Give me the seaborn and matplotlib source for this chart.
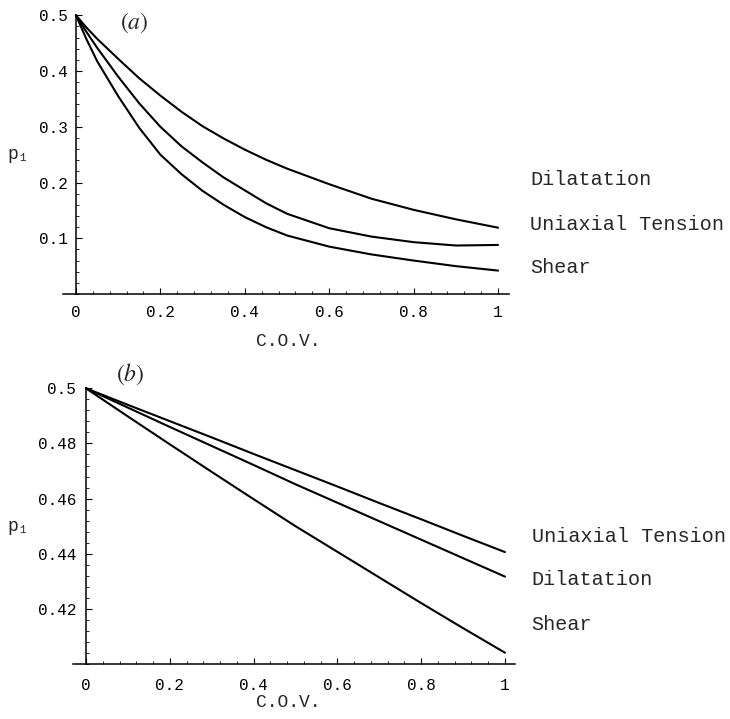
import numpy as np
import pandas as pd
import seaborn as sns
import matplotlib.pyplot as plt
from matplotlib.ticker import FixedLocator, AutoMinorLocator

# valores
a_cov = [0.0, 0.025, 0.05, 0.1, 0.15, 0.2, 0.25, 0.3, 0.35, 0.4, 0.45, 0.5,
         0.6, 0.7, 0.8, 0.9, 1.0]

# panel (a)
a_dilatation = [0.5, 0.478, 0.458, 0.422, 0.387, 0.356, 0.327, 0.301, 0.279, 0.259, 0.241, 0.225,
                0.197, 0.171, 0.151, 0.134, 0.119]
a_uniaxial = [0.5, 0.470, 0.442, 0.390, 0.342, 0.300, 0.265, 0.236, 0.209, 0.186, 0.163, 0.144,
              0.118, 0.103, 0.093, 0.087, 0.088]
a_shear = [0.5, 0.457, 0.418, 0.355, 0.298, 0.250, 0.215, 0.185, 0.160, 0.138, 0.120, 0.105,
           0.085, 0.071, 0.060, 0.050, 0.042]

# panel (b)
b_cov = [0.0, 0.1, 0.2, 0.3, 0.4, 0.5, 0.6, 0.7, 0.8, 0.9, 1.0]
b_uniaxial = [0.5, 0.4940, 0.4881, 0.4822, 0.4762, 0.4703, 0.4644, 0.4584, 0.4525, 0.4465, 0.4406]
b_dilatation = [0.5, 0.4930, 0.4860, 0.4791, 0.4722, 0.4652, 0.4585, 0.4518, 0.4451, 0.4384, 0.4317]
b_shear = [0.5, 0.4898, 0.4797, 0.4697, 0.4598, 0.4500, 0.4407, 0.4314, 0.4221, 0.4130, 0.4041]

x_ticks = [0, 0.2, 0.4, 0.6, 0.8, 1.0]
x_tick_labels = ["0", "0.2", "0.4", "0.6", "0.8", "1"]
a_y_ticks = [0.1, 0.2, 0.3, 0.4, 0.5]
a_y_tick_labels = ["0.1", "0.2", "0.3", "0.4", "0.5"]
b_y_ticks = [0.42, 0.44, 0.46, 0.48, 0.5]
b_y_tick_labels = ["0.42", "0.44", "0.46", "0.48", "0.5"]

a_series = {"Dilatation": a_dilatation, "Uniaxial Tension": a_uniaxial, "Shear": a_shear}
b_series = {"Uniaxial Tension": b_uniaxial, "Dilatation": b_dilatation, "Shear": b_shear}

# posicion de las etiquetas de cada curva (coordenadas de datos)
a_label_y = {"Dilatation": 0.206, "Uniaxial Tension": 0.124, "Shear": 0.048}
b_label_y = {"Uniaxial Tension": 0.4461, "Dilatation": 0.4307, "Shear": 0.4142}

MONO = ["Liberation Mono", "DejaVu Sans Mono"]


def a_tabla(cov, series):
    filas = []
    for nombre, valores in series.items():
        for c, v in zip(cov, valores):
            filas.append({"C.O.V.": c, "p1": v, "Carga": nombre})
    return pd.DataFrame(filas)


def dibujar_panel(ax, cov, series, label_y, label_x, xlim, ylim, yticks, yticklabels,
                  letra, letra_pos, ylab_x, xlab_pos, xpad, ypad):
    df = a_tabla(cov, series)
    sns.lineplot(data=df, x="C.O.V.", y="p1", hue="Carga",
                 palette=["black"] * 3, linewidth=1.5, legend=False,
                 ax=ax, clip_on=False)
    ax.set_xlim(*xlim)
    ax.set_ylim(*ylim)
    for s in ["top", "right"]:
        ax.spines[s].set_visible(False)
    ax.spines["left"].set_position(("data", 0))
    for s in ["left", "bottom"]:
        ax.spines[s].set_linewidth(1.1)
        ax.spines[s].set_color("black")

    ax.xaxis.set_major_locator(FixedLocator(x_ticks))
    ax.set_xticklabels(x_tick_labels)
    ax.yaxis.set_major_locator(FixedLocator(yticks))
    ax.set_yticklabels(yticklabels)
    ax.xaxis.set_minor_locator(AutoMinorLocator(5))
    ax.yaxis.set_minor_locator(AutoMinorLocator(5))
    ax.tick_params(axis="both", which="both", bottom=True, left=True,
                   top=False, right=False)
    ax.tick_params(axis="both", which="major", direction="in", length=4, width=0.8,
                   colors="black", labelsize=11.5)
    ax.tick_params(axis="both", which="minor", direction="in", length=2, width=0.6,
                   colors="black")
    ax.tick_params(axis="x", which="major", pad=xpad)
    ax.tick_params(axis="y", which="major", pad=ypad)
    for t in ax.get_xticklabels() + ax.get_yticklabels():
        t.set_family(MONO)

    ax.set_xlabel("C.O.V.", fontsize=13, family=MONO)
    ax.xaxis.set_label_coords(*xlab_pos)
    ax.xaxis.label.set_va("center")
    ax.set_ylabel("p₁", fontsize=13, family=MONO, rotation=0, va="center", ha="center")
    ax.yaxis.set_label_coords(ylab_x, 0.5)

    for nombre, y in label_y.items():
        ax.text(label_x, y, nombre, fontsize=14.5, family=MONO,
                va="center", ha="left", clip_on=False)

    ax.text(letra_pos[0], letra_pos[1], letra, transform=ax.transAxes,
            fontsize=17, ha="center", va="center")


def generar_grafica():
    sns.set_theme(style="white")
    plt.rcParams["mathtext.fontset"] = "stix"
    plt.rcParams["font.family"] = MONO

    fig = plt.figure(figsize=(7.3, 7.19), dpi=100)
    ax_a = fig.add_axes([0.0867, 0.5911, 0.6100, 0.3876])
    ax_b = fig.add_axes([0.1000, 0.0765, 0.6055, 0.3834])

    dibujar_panel(ax_a, a_cov, a_series, a_label_y, 1.076, (-0.03, 1.025), (0, 0.5),
                  a_y_ticks, a_y_tick_labels, r"$(a)$", (0.159, 0.972),
                  -0.102, (0.505, -0.169), 8, 6)
    dibujar_panel(ax_b, b_cov, b_series, b_label_y, 1.064, (-0.031, 1.024), (0.4, 0.5),
                  b_y_ticks, b_y_tick_labels, r"$(b)$", (0.129, 1.052),
                  -0.124, (0.486, -0.138), 10, 7)

    fig.savefig("out.png", dpi=100, facecolor="white")


if __name__ == "__main__":
    generar_grafica()
